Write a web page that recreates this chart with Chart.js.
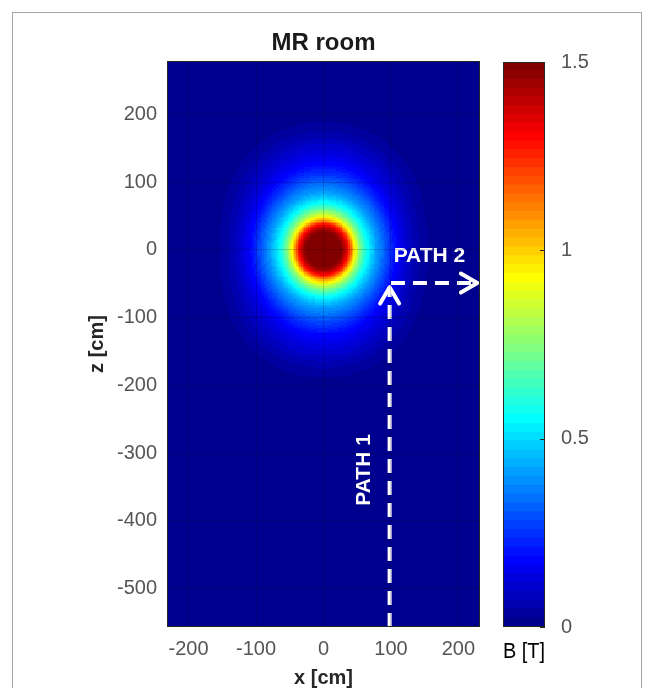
<!DOCTYPE html>
<html>
<head>
<meta charset="utf-8">
<script src="https://cdn.jsdelivr.net/npm/chart.js"></script>
<style>
  body { margin: 0; background: #fff; }
  .frame { position: absolute; left: 12px; top: 12px; width: 628px; height: 700px; border: 1px solid #a6a6a6; }
  #field { position: absolute; left: 0; top: 0; }
  #cbar { position: absolute; left: 490px; top: 0; }
</style>
</head>
<body>
<div class="frame"></div>
<canvas id="field" width="490" height="688"></canvas>
<canvas id="cbar" width="164" height="688"></canvas>

<script>
// radial profile of |B| (distance from magnet centre, cm)
const rCm = [0, 5, 10, 15, 20, 25, 30, 35, 40, 45, 50, 55, 60, 65, 70, 75, 80, 85, 90, 95,
  100, 105, 110, 115, 120, 125, 130, 135, 140, 145, 150, 155, 160, 165, 170, 175, 180, 185,
  190, 195, 200, 205, 210, 215, 220];
// along the x axis
const bAlongX = [1.5, 1.5, 1.5, 1.5, 1.5, 1.5, 1.43, 1.33, 1.18, 0.98, 0.84, 0.72, 0.63, 0.56,
  0.50, 0.45, 0.40, 0.36, 0.32, 0.28, 0.24, 0.20, 0.17, 0.145, 0.12, 0.10, 0.08, 0.065, 0.05,
  0.04, 0.03, 0.022, 0.015, 0.01, 0.006, 0.003, 0, 0, 0, 0, 0, 0, 0, 0, 0];
// along the z axis
const bAlongZ = [1.5, 1.5, 1.5, 1.5, 1.5, 1.5, 1.44, 1.35, 1.22, 1.03, 0.90, 0.79, 0.70, 0.62,
  0.55, 0.50, 0.45, 0.41, 0.38, 0.35, 0.32, 0.29, 0.26, 0.235, 0.21, 0.185, 0.17, 0.155, 0.14,
  0.125, 0.11, 0.10, 0.085, 0.07, 0.058, 0.047, 0.038, 0.03, 0.022, 0.015, 0.009, 0.004, 0, 0, 0];

// map grid (cm)
const cellStep = 2.5;
const xRange = [-232, 232];
const zRange = [-557, 279];
const bRange = [0, 1.5];
const cbarTicks = [0, 0.5, 1, 1.5];

// walking paths
const path1X = [98, 98];
const path1Z = [-557, -55];
const path2X = [100, 228];
const path2Z = [-49, -49];

// MATLAB jet colormap
function jet(n) {
  const m = Math.ceil(n / 4);
  const u = [];
  for (let i = 1; i <= m; i++) u.push(i / m);
  for (let i = 0; i < m - 1; i++) u.push(1);
  for (let i = m; i >= 1; i--) u.push(i / m);
  const g0 = Math.ceil(m / 2) - (n % 4 === 1 ? 1 : 0);
  const J = Array.from({length: n}, () => [0, 0, 0]);
  u.forEach((v, k) => {
    const g = g0 + k + 1, r = g + m, b = g - m;
    if (r <= n) J[r - 1][0] = v;
    if (g >= 1 && g <= n) J[g - 1][1] = v;
    if (b >= 1) J[b - 1][2] = v;
  });
  return J.map(c => 'rgb(' + c.map(v => Math.round(v * 255)).join(',') + ')');
}
const cmap = jet(64);

function colorFor(b) {
  let i = Math.floor((b - bRange[0]) / (bRange[1] - bRange[0]) * cmap.length);
  return cmap[Math.max(0, Math.min(cmap.length - 1, i))];
}

function profileAt(prof, r) {
  const f = r / (rCm[1] - rCm[0]);
  const k = Math.floor(f);
  if (k >= rCm.length - 1) return prof[rCm.length - 1];
  const t = f - k;
  return prof[k] * (1 - t) + prof[k + 1] * t;
}

function fieldAt(x, z) {
  const r = Math.sqrt(x * x + z * z);
  const w = r === 0 ? 0 : (z * z) / (r * r);
  return profileAt(bAlongX, r) * (1 - w) + profileAt(bAlongZ, r) * w;
}

const cells = [];
for (let z = zRange[0]; z <= zRange[1] + cellStep; z += cellStep) {
  for (let x = xRange[0]; x <= xRange[1] + cellStep; x += cellStep) {
    cells.push({x: x, z: z, color: colorFor(fieldAt(x, z))});
  }
}

const tickColor = '#555555';
const frameColor = '#262626';
const fontFamily = '"Liberation Sans", Arial, sans-serif';

// heat map cells, placed with the chart's own x/y scales
const heatCells = {
  id: 'heatCells',
  beforeDatasetsDraw(chart) {
    const {ctx, chartArea: a, scales: {x, y}} = chart;
    const h = cellStep / 2;
    ctx.save();
    ctx.beginPath();
    ctx.rect(a.left, a.top, a.right - a.left, a.bottom - a.top);
    ctx.clip();
    cells.forEach(c => {
      const l = Math.round(x.getPixelForValue(c.x - h));
      const r = Math.round(x.getPixelForValue(c.x + h));
      const t = Math.round(y.getPixelForValue(c.z + h));
      const b = Math.round(y.getPixelForValue(c.z - h));
      ctx.fillStyle = c.color;
      ctx.fillRect(l, t, r - l, b - t);
    });
    ctx.restore();
  }
};

const frameBox = {
  id: 'frameBox',
  afterDraw(chart) {
    const {ctx, chartArea: a} = chart;
    ctx.save();
    ctx.strokeStyle = frameColor;
    ctx.lineWidth = 1;
    ctx.strokeRect(a.left + 0.5, a.top + 0.5, a.right - a.left - 1, a.bottom - a.top - 1);
    ctx.restore();
  }
};

// small inward tick marks on the colour bar's right edge
const cbarMarks = {
  id: 'cbarMarks',
  afterDraw(chart) {
    const {ctx, chartArea: a, scales: {y}} = chart;
    ctx.save();
    ctx.strokeStyle = frameColor;
    ctx.lineWidth = 1;
    cbarTicks.forEach(v => {
      const py = Math.round(y.getPixelForValue(v)) + 0.5;
      ctx.beginPath();
      ctx.moveTo(a.right - 5, py);
      ctx.lineTo(a.right, py);
      ctx.stroke();
    });
    ctx.restore();
  }
};

const pathMarks = {
  id: 'pathMarks',
  afterDatasetsDraw(chart) {
    const {ctx, scales: {x, y}} = chart;
    ctx.save();
    ctx.strokeStyle = '#ffffff';
    ctx.lineWidth = 4;
    ctx.lineCap = 'round';
    ctx.lineJoin = 'round';
    [[path1X, path1Z], [path2X, path2Z]].forEach(([px, pz]) => {
      const n = px.length;
      const x1 = x.getPixelForValue(px[n - 1]), y1 = y.getPixelForValue(pz[n - 1]);
      const x0 = x.getPixelForValue(px[n - 2]), y0 = y.getPixelForValue(pz[n - 2]);
      const ang = Math.atan2(y1 - y0, x1 - x0);
      const len = 19, spread = Math.PI / 6;
      ctx.beginPath();
      ctx.moveTo(x1 - len * Math.cos(ang - spread), y1 - len * Math.sin(ang - spread));
      ctx.lineTo(x1, y1);
      ctx.lineTo(x1 - len * Math.cos(ang + spread), y1 - len * Math.sin(ang + spread));
      ctx.stroke();
    });
    ctx.fillStyle = '#ffffff';
    ctx.font = 'bold 21px ' + fontFamily;
    ctx.textAlign = 'center';
    ctx.textBaseline = 'middle';
    ctx.fillText('PATH 2', x.getPixelForValue(157), y.getPixelForValue(-10));
    ctx.translate(x.getPixelForValue(61), y.getPixelForValue(-325));
    ctx.rotate(-Math.PI / 2);
    ctx.fillText('PATH 1', 0, 0);
    ctx.restore();
  }
};

const pathLine = (px, pz) => ({
  type: 'line',
  data: px.map((v, i) => ({x: v, y: pz[i]})),
  borderColor: '#ffffff',
  borderWidth: 4,
  borderDash: [14, 8],
  pointRadius: 0,
  showLine: true
});

new Chart(document.getElementById('field'), {
  type: 'scatter',
  data: {
    datasets: [
      pathLine(path1X, path1Z),
      pathLine(path2X, path2Z)
    ]
  },
  options: {
    responsive: false,
    animation: false,
    events: [],
    layout: { padding: { left: 85, top: 0, right: 10, bottom: 0 } },
    plugins: {
      legend: { display: false },
      tooltip: { enabled: false },
      title: {
        display: true,
        text: 'MR room',
        fullSize: false,
        color: '#1a1a1a',
        font: { family: fontFamily, size: 24, weight: 'bold', lineHeight: 1.2 },
        padding: { top: 29, bottom: 3.2 }
      }
    },
    scales: {
      x: {
        type: 'linear',
        position: 'bottom',
        min: xRange[0],
        max: xRange[1],
        afterFit: s => { s.height = 61; },
        ticks: {
          stepSize: 100,
          includeBounds: false,
          color: tickColor,
          padding: 10,
          maxRotation: 0,
          font: { family: fontFamily, size: 20 }
        },
        grid: { color: 'rgba(0,0,0,0.18)', drawTicks: false, z: 1 },
        border: { display: false },
        title: {
          display: true,
          text: 'x [cm]',
          color: frameColor,
          padding: 0,
          font: { family: fontFamily, size: 20, weight: 'bold', lineHeight: 1 }
        }
      },
      y: {
        type: 'linear',
        min: zRange[0],
        max: zRange[1],
        afterFit: s => { s.width = 82; },
        ticks: {
          stepSize: 100,
          includeBounds: false,
          color: tickColor,
          padding: 10,
          font: { family: fontFamily, size: 20 }
        },
        grid: { color: 'rgba(0,0,0,0.18)', drawTicks: false, z: 1 },
        border: { display: false },
        title: {
          display: true,
          text: 'z [cm]',
          color: frameColor,
          padding: 0,
          font: { family: fontFamily, size: 20, weight: 'bold', lineHeight: 1.2 }
        }
      }
    }
  },
  plugins: [heatCells, pathMarks, frameBox]
});

// colour bar: one stacked segment per colormap entry
const cbarSegments = cmap.map(c => ({
  data: [(bRange[1] - bRange[0]) / cmap.length],
  backgroundColor: c,
  borderWidth: 0,
  inflateAmount: 1,
  barPercentage: 1,
  categoryPercentage: 1
}));

new Chart(document.getElementById('cbar'), {
  type: 'bar',
  data: { labels: [''], datasets: cbarSegments },
  options: {
    responsive: false,
    animation: false,
    events: [],
    layout: { padding: { left: 13, top: 62, right: 0, bottom: 0 } },
    plugins: { legend: { display: false }, tooltip: { enabled: false } },
    scales: {
      x: {
        stacked: true,
        afterFit: s => { s.height = 61; },
        ticks: { display: false },
        grid: { display: false },
        border: { display: false },
        title: {
          display: true,
          text: 'B [T]',
          color: '#000000',
          padding: { top: 0, bottom: 25 },
          font: { family: fontFamily, size: 22, lineHeight: 1 }
        }
      },
      y: {
        stacked: true,
        position: 'right',
        min: bRange[0],
        max: bRange[1],
        afterFit: s => { s.width = 109; },
        afterBuildTicks: s => { s.ticks = cbarTicks.map(v => ({value: v})); },
        ticks: {
          color: tickColor,
          padding: 8,
          callback: v => String(v),
          font: { family: fontFamily, size: 20 }
        },
        grid: { display: false },
        border: { display: false }
      }
    }
  },
  plugins: [frameBox, cbarMarks]
});
</script>
</body>
</html>
